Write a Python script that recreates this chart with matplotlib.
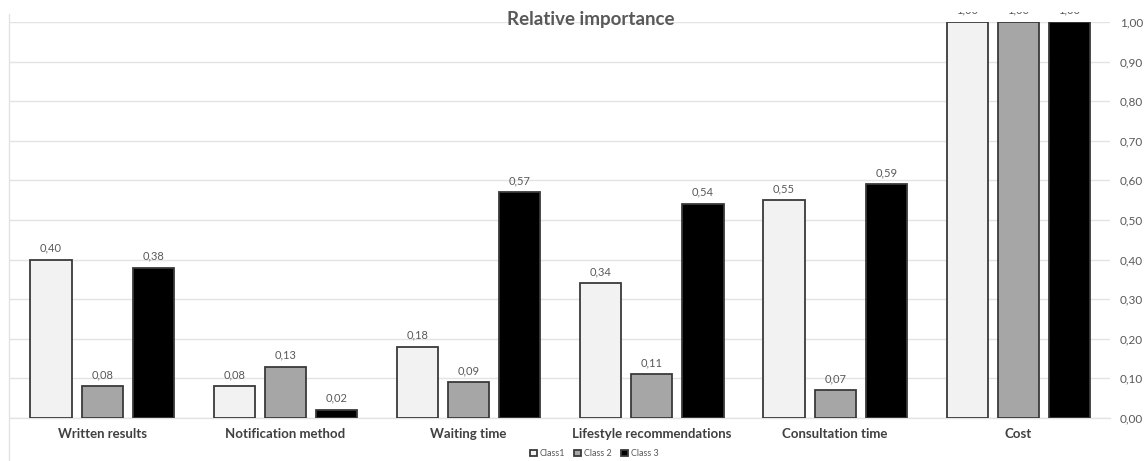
import numpy as np
import matplotlib
matplotlib.use("Agg")
import matplotlib.pyplot as plt
from matplotlib.lines import Line2D
from matplotlib.patches import Rectangle

# Datos
categorias = ["Written results", "Notification method", "Waiting time",
              "Lifestyle recommendations", "Consultation time", "Cost"]
class1 = [0.40, 0.08, 0.18, 0.34, 0.55, 1.00]
class2 = [0.08, 0.13, 0.09, 0.11, 0.07, 1.00]
class3 = [0.38, 0.02, 0.57, 0.54, 0.59, 1.00]
series_labels = ["Class1", "Class 2", "Class 3"]
yticks = [0.0, 0.1, 0.2, 0.3, 0.4, 0.5, 0.6, 0.7, 0.8, 0.9, 1.0]

plt.rcParams["font.family"] = ["Lato", "DejaVu Sans"]

fig = plt.figure(figsize=(11.47, 4.61), dpi=100)
ax = fig.add_axes([0.00915, 0.0933, 0.9586, 0.859])

x = np.arange(len(categorias))
width = 0.224
offset = 0.279
colores = ["#f2f2f2", "#a6a6a6", "#000000"]
edge = "#3a3a3a"

for i, (vals, col, lab) in enumerate(zip([class1, class2, class3], colores, series_labels)):
    bars = ax.bar(x + (i - 1) * offset, vals, width, color=col, edgecolor=edge,
                  linewidth=1.3, label=lab, zorder=3)
    for b, v in zip(bars, vals):
        ax.annotate(f"{v:.2f}".replace(".", ","),
                    (b.get_x() + b.get_width() / 2, v),
                    xytext=(0, 4.5), textcoords="offset points",
                    ha="center", va="bottom", fontsize=8, color="#595959",
                    annotation_clip=False)

ax.set_xlim(-0.5, len(categorias) - 0.5)
ax.set_ylim(0, 1.0)
ax.set_yticks(yticks)
ax.set_yticklabels([f"{t:.2f}".replace(".", ",") for t in yticks],
                   fontsize=8.5, color="#595959")
ax.yaxis.tick_right()
ax.tick_params(axis="y", length=0, pad=7)
ax.set_xticks(x)
ax.set_xticklabels(categorias, fontsize=9.5, fontweight="bold", color="#404040")
ax.tick_params(axis="x", length=0, pad=7)

ax.grid(axis="y", color="#e3e3e3", linewidth=1, zorder=0)
for s in ["top", "right", "left"]:
    ax.spines[s].set_visible(False)
ax.spines["bottom"].set_color("#e3e3e3")
ax.spines["bottom"].set_linewidth(1)

leg = fig.legend(loc="center", bbox_to_anchor=(0.518, 0.016), ncol=3, frameon=False,
                 fontsize=6.5, handlelength=0.8, handleheight=0.8, handletextpad=0.3,
                 columnspacing=1.0, borderpad=0)
for t in leg.get_texts():
    t.set_color("#595959")

# Borde izquierdo del área del gráfico
fig.add_artist(Line2D([0.0078, 0.0078], [0.0, 0.97], transform=fig.transFigure,
                      color="#e3e3e3", linewidth=1))

# La imagen original está recortada por arriba: tapamos la franja superior
fig.add_artist(Rectangle((0, 1 - 12 / 461), 1, 12 / 461, transform=fig.transFigure,
                         facecolor="white", edgecolor="none", zorder=10))

fig.text(0.515, 1 - 20 / 461, "Relative importance", ha="center", va="center",
         fontsize=13.5, fontweight="bold", color="#595959", zorder=11)

fig.savefig("out.png", dpi=100)
